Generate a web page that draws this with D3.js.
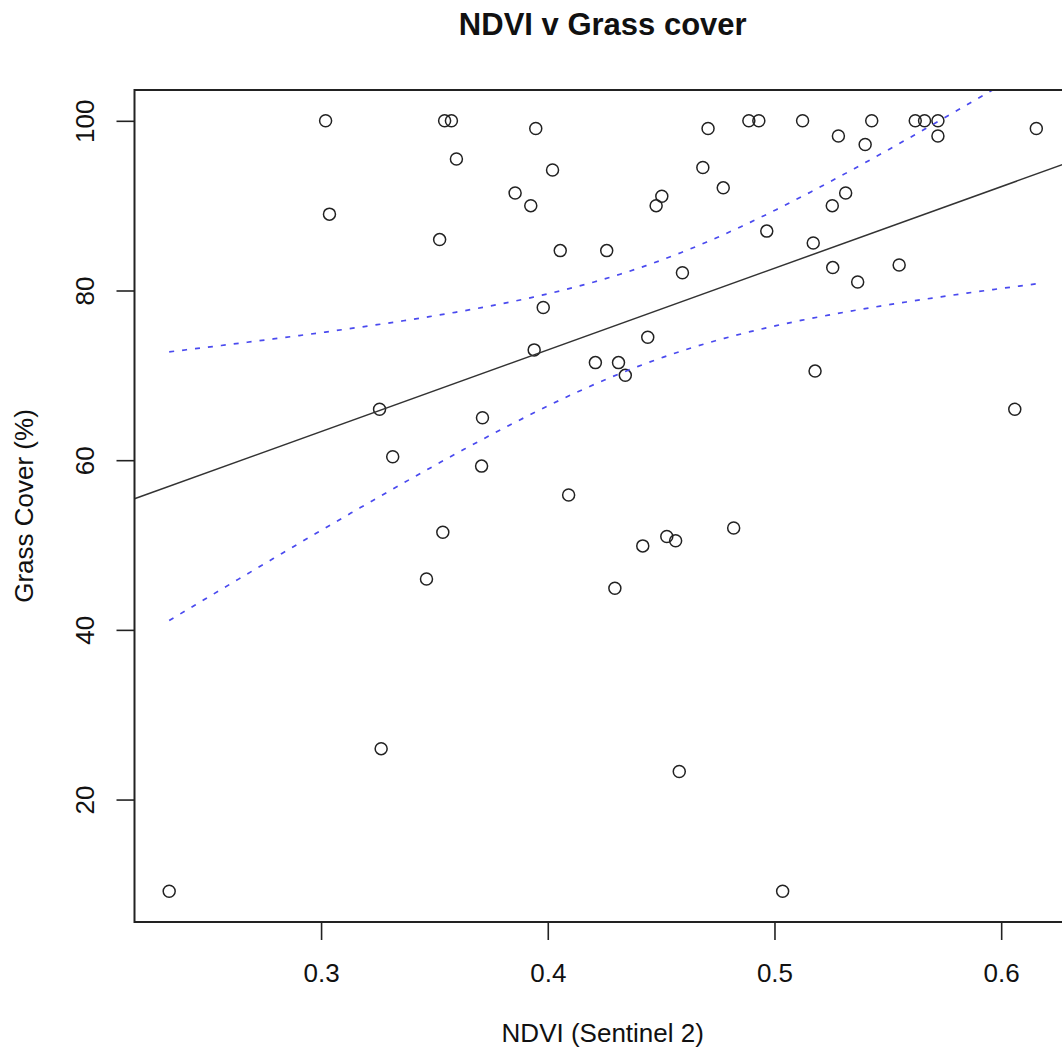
<!DOCTYPE html>
<html>
<head>
<meta charset="utf-8">
<script src="https://cdn.jsdelivr.net/npm/d3@7"></script>
<style>
    body { margin: 0; background: white; overflow: hidden; }
    text { font-family: "Liberation Sans", Arial, sans-serif; fill: #111; }
</style>
</head>
<body>
<main></main>
<script>
// data
let ndvi = [0.233, 0.302, 0.3037, 0.3258, 0.3265, 0.3316, 0.3465, 0.3523, 0.3537, 0.3545,
    0.3575, 0.3597, 0.3708, 0.3712, 0.3856, 0.3925, 0.394, 0.3947, 0.398, 0.4021,
    0.4055, 0.4092, 0.421, 0.426, 0.4296, 0.4312, 0.4342, 0.4419, 0.4441, 0.4478,
    0.4503, 0.4525, 0.4564, 0.458, 0.4594, 0.4684, 0.4707, 0.4774, 0.482, 0.4887,
    0.4931, 0.4966, 0.5036, 0.5124, 0.5171, 0.5179, 0.5255, 0.5257, 0.5282, 0.5314,
    0.5367, 0.54, 0.5429, 0.555, 0.5621, 0.5662, 0.5721, 0.5721, 0.606, 0.6155]
let grass = [9.2, 100, 89, 66, 26, 60.4, 46, 86, 51.5, 100,
    100, 95.5, 59.3, 65, 91.5, 90, 73, 99.1, 78, 94.2,
    84.7, 55.9, 71.5, 84.7, 44.9, 71.5, 70, 49.9, 74.5, 90,
    91.1, 51, 50.5, 23.3, 82.1, 94.5, 99.1, 92.1, 52, 100,
    100, 87, 9.2, 100, 85.6, 70.5, 90, 82.7, 98.2, 91.5,
    81, 97.2, 100, 83, 100, 100, 100, 98.2, 66, 99.1]
let xTicks = [0.3, 0.4, 0.5, 0.6]
let yTicks = [20, 40, 60, 80, 100]

let width = 1062, height = 1053
let pLeft = 134.5, pRight = 1071, pTop = 90, pBottom = 922

let svg = d3.select('main')
    .append('svg')
    .attr('width', width)
    .attr('height', height)

// R style 4% padding on both axes
let xExt = d3.extent(ndvi), yExt = d3.extent(grass)
let xPad = (xExt[1] - xExt[0]) * 0.04, yPad = (yExt[1] - yExt[0]) * 0.04

let x = d3.scaleLinear()
    .domain([xExt[0] - xPad, xExt[1] + xPad])
    .range([pLeft, pRight])
let y = d3.scaleLinear()
    .domain([yExt[0] - yPad, yExt[1] + yPad])
    .range([pBottom, pTop])

// linear fit + 95% confidence band
let n = ndvi.length
let mx = d3.mean(ndvi), my = d3.mean(grass)
let sxx = d3.sum(ndvi, d => (d - mx) * (d - mx))
let sxy = d3.sum(ndvi.map((d, i) => (d - mx) * (grass[i] - my)))
let slope = sxy / sxx
let icept = my - slope * mx
let sse = d3.sum(ndvi.map((d, i) => Math.pow(grass[i] - (icept + slope * d), 2)))
let se = Math.sqrt(sse / (n - 2))
let tq = 2.0017

let bandX = d3.range(0, 101).map(i => xExt[0] + (xExt[1] - xExt[0]) * i / 100)
let band = bandX.map(v => {
    let fit = icept + slope * v
    let hw = tq * se * Math.sqrt(1 / n + (v - mx) * (v - mx) / sxx)
    return { x: v, lo: fit - hw, hi: fit + hw }
})

svg.append('clipPath')
    .attr('id', 'plotClip')
    .append('rect')
    .attr('x', pLeft)
    .attr('y', pTop)
    .attr('width', pRight - pLeft)
    .attr('height', pBottom - pTop)

let plot = svg.append('g').attr('clip-path', 'url(#plotClip)')

// points
plot.selectAll('circle')
    .data(ndvi)
    .enter()
    .append('circle')
    .attr('cx', d => x(d))
    .attr('cy', (d, i) => y(grass[i]))
    .attr('r', 6)
    .style('fill', 'none')
    .style('stroke', '#222')
    .style('stroke-width', 1.5)

// regression line across the whole plot
let xd = x.domain()
plot.append('line')
    .attr('x1', x(xd[0]))
    .attr('y1', y(icept + slope * xd[0]))
    .attr('x2', x(xd[1]))
    .attr('y2', y(icept + slope * xd[1]))
    .style('stroke', '#333')
    .style('stroke-width', 1.5)

let upper = d3.line().x(d => x(d.x)).y(d => y(d.hi))
let lower = d3.line().x(d => x(d.x)).y(d => y(d.lo))
;[upper, lower].forEach(l => {
    plot.append('path')
        .attr('d', l(band))
        .style('fill', 'none')
        .style('stroke', '#4a4aef')
        .style('stroke-width', 1.7)
        .style('stroke-dasharray', '5,8')
})

// box
svg.append('rect')
    .attr('x', pLeft)
    .attr('y', pTop)
    .attr('width', pRight - pLeft)
    .attr('height', pBottom - pTop)
    .style('fill', 'none')
    .style('stroke', '#222')
    .style('stroke-width', 2)

// axes
let xAxis = svg.append('g')
    .attr('transform', `translate(0,${pBottom})`)
    .call(d3.axisBottom(x).tickValues(xTicks).tickSize(18).tickPadding(24).tickFormat(d3.format('.1f')))
xAxis.select('.domain').remove()
xAxis.selectAll('line').style('stroke', '#222').style('stroke-width', 1.6)
xAxis.selectAll('text').style('font-size', '26px').style('fill', '#111')

let yAxis = svg.append('g')
    .attr('transform', `translate(${pLeft},0)`)
    .call(d3.axisLeft(y).tickValues(yTicks).tickSize(18))
yAxis.select('.domain').remove()
yAxis.selectAll('line').style('stroke', '#222').style('stroke-width', 1.6)
yAxis.selectAll('text')
    .attr('x', null)
    .attr('dy', null)
    .attr('transform', 'translate(-41,0) rotate(-90)')
    .attr('text-anchor', 'middle')
    .style('font-size', '26px')
    .style('fill', '#111')

// titles
svg.append('text')
    .attr('x', (pLeft + pRight) / 2)
    .attr('y', 35)
    .attr('text-anchor', 'middle')
    .style('font-size', '31px')
    .style('font-weight', 'bold')
    .text('NDVI v Grass cover')

svg.append('text')
    .attr('x', (pLeft + pRight) / 2)
    .attr('y', 1042)
    .attr('text-anchor', 'middle')
    .style('font-size', '26px')
    .text('NDVI (Sentinel 2)')

svg.append('text')
    .attr('transform', `translate(33,${(pTop + pBottom) / 2}) rotate(-90)`)
    .attr('text-anchor', 'middle')
    .style('font-size', '26px')
    .text('Grass Cover (%)')
</script>
</body>
</html>
